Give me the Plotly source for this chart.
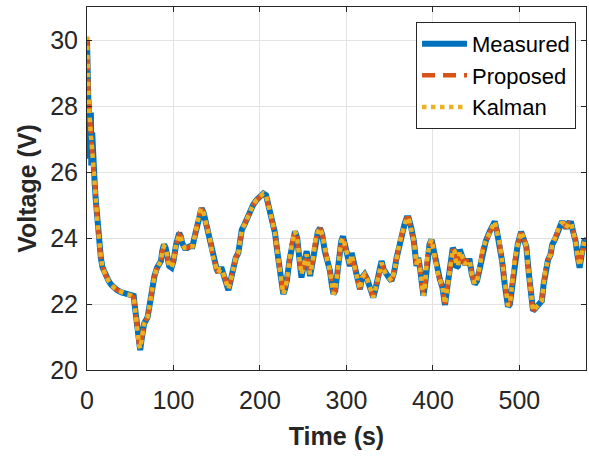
import plotly.graph_objects as go

time_s = [0, 0.5, 1, 1.5, 2, 2.5, 3, 3.5, 4, 4.5, 5, 6, 7, 8, 9, 10, 11, 12, 13, 14, 16, 18, 20, 22, 25, 28, 31, 35, 40, 45, 50, 54,
          55, 56.5, 58, 60, 61.5, 63, 64.5, 66, 68, 70, 72, 75, 78, 81, 83, 85.5, 87, 89, 91, 93, 95, 97.7, 100, 103, 106.6,
          108.5, 110, 113, 116, 119, 122, 125, 128, 130.5, 132.5, 135, 138, 142, 145, 148, 150, 152, 154, 156, 158, 160, 163.5,
          166, 169, 172, 175, 177, 179, 182, 185, 188, 192, 196, 200, 204, 207, 210, 214, 217.4, 220, 223, 225, 227, 229, 231,
          234, 237, 240.5, 243, 245.5, 248, 250, 252, 254, 256, 258, 261, 264, 267, 269.5, 272, 275, 278, 281, 283, 285, 287,
          289, 292, 294, 296, 298, 300, 302, 304, 306, 308, 311, 313, 315.6, 318, 321, 324, 327, 329, 331, 334, 337, 340.6, 343,
          346, 349, 352, 355, 358, 361, 364, 367, 369.5, 372, 375, 378, 381, 383, 385, 387, 389, 391, 393, 396, 398.4, 401, 404,
          406, 408, 411, 414, 416, 418, 420, 423, 425, 427, 429, 431, 433, 435, 437, 440, 442.6, 445, 448.4, 451, 454, 458, 461,
          465.7, 468, 471.5, 474, 477, 480, 483, 486.8, 489, 492, 494.6, 498, 502, 505, 508, 511, 513, 515.7, 518, 521, 523.4,
          526, 528, 530, 533, 536, 538, 540.8, 543, 546, 548.5, 551, 554, 557, 560, 562, 565, 567, 569.6, 572, 575, 578]

measured = [30.0, 29.6, 28.6, 27.6, 27.9, 27.0, 26.4, 27.5, 26.3, 27.8, 26.2, 27.2, 26.1, 26.0, 25.6, 25.2, 24.8, 24.5, 24.2, 23.9,
            23.4, 23.1, 22.95, 22.85, 22.7, 22.58, 22.5, 22.42, 22.35, 22.3, 22.27, 22.25,
            22.0, 21.6, 21.2, 20.8, 20.6, 20.9, 21.3, 21.4, 21.5, 21.6, 21.9, 22.4, 22.85, 23.1, 23.2, 23.3, 23.6, 23.8, 23.7,
            23.3, 23.15, 23.1, 23.3, 23.8, 24.15, 24.05, 23.85, 23.7, 23.7, 23.75, 23.75, 24.1, 24.5, 24.8, 24.9, 24.75, 24.4,
            24.0, 23.5, 23.15, 23.05, 22.95, 23.05, 23.05, 22.9, 22.8, 22.42, 22.7, 23.1, 23.4, 23.55, 23.9, 24.25, 24.4, 24.6,
            24.8, 25.0, 25.15, 25.25, 25.35, 25.3, 25.0, 24.5, 24.15, 23.6, 23.0, 22.5, 22.3, 22.45, 22.7, 23.3, 23.85, 24.2,
            24.0, 23.4, 22.8, 23.1, 23.4, 23.6, 23.2, 22.85, 23.3, 23.9, 24.2, 24.3, 24.1, 23.6, 23.3, 23.0, 22.6, 22.3, 22.4,
            22.9, 23.5, 23.9, 24.05, 23.8, 23.6, 23.45, 23.15, 23.55, 23.3, 22.9, 22.7, 22.45, 22.8, 22.9, 22.75, 22.5, 22.3,
            22.2, 22.5, 22.9, 23.3, 23.05, 22.88, 22.8, 22.7, 22.95, 23.4, 23.8, 24.1, 24.4, 24.6, 24.6, 24.3, 23.9, 23.15,
            23.4, 23.1, 22.6, 22.25, 22.6, 23.3, 23.8, 23.95, 23.6, 23.1, 22.9, 22.75, 22.5, 21.97, 22.4, 22.75, 23.0, 23.7,
            23.6, 23.1, 23.15, 23.65, 23.5, 23.3, 23.2, 23.3, 23.3, 22.9, 22.6, 22.7, 23.1, 23.7, 23.9, 24.2, 24.35, 24.5,
            24.2, 23.85, 23.3, 22.6, 21.92, 22.0, 22.7, 23.33, 23.8, 24.19, 24.0, 23.74, 22.9, 22.3, 21.8, 21.85, 21.95, 22.0,
            22.1, 22.6, 23.0, 23.33, 23.5, 23.8, 23.94, 24.1, 24.35, 24.45, 24.45, 24.3, 24.45, 24.44, 24.2, 23.9, 23.5, 23.1,
            23.5, 23.9, 23.95]

proposed = [30.1, 29.9, 29.3, 28.6, 28.2, 27.8, 27.5, 27.4, 27.3, 27.2, 27.0, 26.7, 26.4, 26.1, 25.7, 25.3, 24.9, 24.5, 24.2, 23.9,
            23.4, 23.1, 22.95, 22.85, 22.7, 22.58, 22.5, 22.42, 22.35, 22.3, 22.27, 22.2,
            22.0, 21.6, 21.2, 20.8, 20.65, 20.9, 21.3, 21.4, 21.5, 21.6, 21.9, 22.4, 22.85, 23.1, 23.2, 23.3, 23.6, 23.75, 23.7,
            23.3, 23.15, 23.1, 23.3, 23.8, 24.1, 24.05, 23.85, 23.7, 23.7, 23.75, 23.75, 24.1, 24.5, 24.8, 24.9, 24.75, 24.4,
            24.0, 23.5, 23.15, 23.05, 22.95, 23.05, 23.05, 22.9, 22.8, 22.45, 22.7, 23.1, 23.4, 23.55, 23.9, 24.25, 24.4, 24.6,
            24.8, 25.0, 25.15, 25.25, 25.35, 25.3, 25.0, 24.5, 24.15, 23.6, 23.0, 22.5, 22.3, 22.45, 22.7, 23.3, 23.85, 24.2,
            24.0, 23.4, 22.9, 23.1, 23.35, 23.5, 23.2, 22.9, 23.3, 23.9, 24.2, 24.3, 24.1, 23.6, 23.3, 23.0, 22.6, 22.3, 22.4,
            22.9, 23.5, 23.9, 24.0, 23.8, 23.6, 23.45, 23.2, 23.5, 23.3, 22.9, 22.7, 22.45, 22.8, 22.9, 22.75, 22.5, 22.3,
            22.2, 22.5, 22.9, 23.25, 23.05, 22.88, 22.8, 22.7, 22.95, 23.4, 23.8, 24.1, 24.4, 24.6, 24.6, 24.3, 23.9, 23.2,
            23.4, 23.1, 22.6, 22.25, 22.6, 23.3, 23.8, 23.95, 23.6, 23.1, 22.9, 22.75, 22.5, 22.0, 22.4, 22.75, 23.0, 23.65,
            23.6, 23.2, 23.15, 23.6, 23.5, 23.3, 23.2, 23.3, 23.3, 22.9, 22.6, 22.7, 23.1, 23.7, 23.9, 24.2, 24.35, 24.5,
            24.2, 23.85, 23.3, 22.6, 21.95, 22.0, 22.7, 23.33, 23.8, 24.19, 24.0, 23.74, 22.9, 22.3, 21.8, 21.85, 21.95, 22.0,
            22.1, 22.6, 23.0, 23.33, 23.5, 23.8, 23.94, 24.1, 24.35, 24.45, 24.45, 24.3, 24.45, 24.44, 24.2, 23.9, 23.5, 23.15,
            23.5, 23.9, 23.95]

kalman = [30.1, 29.8, 29.2, 28.5, 28.1, 27.7, 27.5, 27.4, 27.3, 27.1, 27.0, 26.7, 26.4, 26.1, 25.7, 25.3, 24.9, 24.5, 24.2, 23.9,
          23.4, 23.1, 22.95, 22.85, 22.7, 22.58, 22.5, 22.42, 22.35, 22.3, 22.27, 22.2,
          22.0, 21.6, 21.2, 20.8, 20.65, 20.9, 21.3, 21.4, 21.5, 21.6, 21.9, 22.4, 22.85, 23.1, 23.2, 23.3, 23.6, 23.75, 23.7,
          23.3, 23.15, 23.1, 23.3, 23.8, 24.1, 24.05, 23.85, 23.7, 23.7, 23.75, 23.75, 24.1, 24.5, 24.8, 24.9, 24.75, 24.4,
          24.0, 23.5, 23.15, 23.05, 22.95, 23.05, 23.05, 22.9, 22.8, 22.45, 22.7, 23.1, 23.4, 23.55, 23.9, 24.25, 24.4, 24.6,
          24.8, 25.0, 25.15, 25.25, 25.35, 25.3, 25.0, 24.5, 24.15, 23.6, 23.0, 22.5, 22.3, 22.45, 22.7, 23.3, 23.85, 24.2,
          24.0, 23.4, 22.9, 23.1, 23.35, 23.5, 23.2, 22.9, 23.3, 23.9, 24.2, 24.3, 24.1, 23.6, 23.3, 23.0, 22.6, 22.3, 22.4,
          22.9, 23.5, 23.9, 24.0, 23.8, 23.6, 23.45, 23.2, 23.5, 23.3, 22.9, 22.7, 22.45, 22.8, 22.9, 22.75, 22.5, 22.3,
          22.2, 22.5, 22.9, 23.25, 23.05, 22.88, 22.8, 22.7, 22.95, 23.4, 23.8, 24.1, 24.4, 24.6, 24.6, 24.3, 23.9, 23.2,
          23.4, 23.1, 22.6, 22.25, 22.6, 23.3, 23.8, 23.95, 23.6, 23.1, 22.9, 22.75, 22.5, 22.0, 22.4, 22.75, 23.0, 23.65,
          23.6, 23.2, 23.15, 23.6, 23.5, 23.3, 23.2, 23.3, 23.3, 22.9, 22.6, 22.7, 23.1, 23.7, 23.9, 24.2, 24.35, 24.5,
          24.2, 23.85, 23.3, 22.6, 21.95, 22.0, 22.7, 23.33, 23.8, 24.19, 24.0, 23.74, 22.9, 22.3, 21.8, 21.85, 21.95, 22.0,
          22.1, 22.6, 23.0, 23.33, 23.5, 23.8, 23.94, 24.1, 24.35, 24.45, 24.45, 24.3, 24.45, 24.44, 24.2, 23.9, 23.5, 23.15,
          23.5, 23.9, 23.95]

x_ticks = [0, 100, 200, 300, 400, 500]
y_ticks = [20, 22, 24, 26, 28, 30]

FONT = "Liberation Sans, Arial, sans-serif"
AX = "#262626"

fig = go.Figure()
fig.add_trace(go.Scatter(x=time_s, y=measured, mode="lines", name="Measured",
                         line=dict(color="#0072BD", width=6)))
fig.add_trace(go.Scatter(x=time_s, y=proposed, mode="lines", name="Proposed",
                         line=dict(color="#D95319", width=4.5, dash="13px,8px")))
fig.add_trace(go.Scatter(x=time_s, y=kalman, mode="lines", name="Kalman",
                         line=dict(color="#EDB120", width=4.5, dash="4.5px,4.5px")))

axis_common = dict(
    showgrid=True, gridcolor="#e3e3e3", gridwidth=1,
    showline=True, linecolor=AX, linewidth=1, mirror="ticks",
    ticks="inside", ticklen=5, tickcolor=AX, tickwidth=1,
    tickfont=dict(family=FONT, size=25, color=AX),
    zeroline=False,
)

fig.update_layout(
    width=589, height=457,
    margin=dict(l=87, r=3, t=7, b=87),
    paper_bgcolor="white", plot_bgcolor="white",
    font=dict(family=FONT, color=AX),
    xaxis=dict(range=[0, 577], tickvals=x_ticks, ticktext=[str(v) for v in x_ticks],
               ticklabelstandoff=8,
               title=dict(text="<b>Time (s)</b>", font=dict(family=FONT, size=25, color=AX), standoff=14),
               **axis_common),
    yaxis=dict(range=[20, 31], tickvals=y_ticks, ticktext=[str(v) for v in y_ticks],
               ticklabelstandoff=3,
               title=dict(text="<b>Voltage (V)</b>", font=dict(family=FONT, size=25, color=AX), standoff=6),
               **axis_common),
    legend=dict(x=0.98, y=0.959, xanchor="right", yanchor="top",
                bgcolor="white", bordercolor=AX, borderwidth=1,
                font=dict(family=FONT, size=22, color="black"),
                itemwidth=45),
    showlegend=True,
)

fig.write_html("out.html")
